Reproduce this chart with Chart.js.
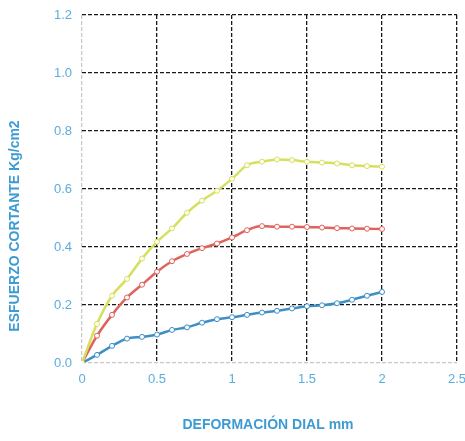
<!DOCTYPE html>
<html lang="es">
<head>
<meta charset="UTF-8">
<title>Esfuerzo cortante vs deformación</title>
<script src="https://cdn.jsdelivr.net/npm/chart.js"></script>
<style>
    body { margin: 0; background: #fff; }
    #chart { display: block; }
</style>
</head>
<body>
<canvas id="chart" width="465" height="441"></canvas>
<script>
// deformación dial (mm)
const deformacion = [0, 0.1, 0.2, 0.3, 0.4, 0.5, 0.6, 0.7, 0.8, 0.9, 1.0,
                     1.1, 1.2, 1.3, 1.4, 1.5, 1.6, 1.7, 1.8, 1.9, 2.0];
// esfuerzo cortante (Kg/cm2)
const serieAmarilla = [0, 0.135, 0.232, 0.29, 0.36, 0.418, 0.464, 0.518, 0.56, 0.594, 0.635,
                       0.682, 0.694, 0.702, 0.70, 0.694, 0.691, 0.688, 0.682, 0.679, 0.677];
const serieRoja = [0, 0.094, 0.166, 0.226, 0.27, 0.315, 0.351, 0.376, 0.396, 0.412, 0.433,
                   0.458, 0.472, 0.47, 0.47, 0.469, 0.467, 0.465, 0.464, 0.463, 0.462];
const serieAzul = [0, 0.028, 0.059, 0.084, 0.09, 0.098, 0.114, 0.123, 0.139, 0.151, 0.158,
                   0.166, 0.174, 0.18, 0.188, 0.196, 0.199, 0.206, 0.218, 0.232, 0.245];
const xTicks = ['0', '0.5', '1', '1.5', '2', '2.5'];
const yTicks = ['0.0', '0.2', '0.4', '0.6', '0.8', '1.0', '1.2'];

const azulTexto = '#3c9bd3';
const fuente = '"Liberation Sans", Arial, sans-serif';

function puntos(vals) {
    return deformacion.map((x, i) => ({ x: x, y: vals[i] }));
}

function serie(vals, color) {
    return {
        data: puntos(vals),
        borderColor: color,
        backgroundColor: '#ffffff',
        borderWidth: 2.5,
        pointRadius: 2.5,
        pointBorderWidth: 1,
        pointBorderColor: color,
        pointBackgroundColor: '#ffffff',
        cubicInterpolationMode: 'monotone'
    };
}

// titulos de ejes dibujados a mano (el del eje Y no está centrado)
const titulos = {
    id: 'titulos',
    afterDraw(chart) {
        const ctx = chart.ctx;
        ctx.save();
        ctx.fillStyle = azulTexto;
        ctx.font = 'bold 14px ' + fuente;
        ctx.textAlign = 'center';
        ctx.textBaseline = 'middle';
        ctx.fillText('DEFORMACIÓN DIAL mm', 268, 425);
        ctx.translate(15, 226);
        ctx.rotate(-Math.PI / 2);
        ctx.fillText('ESFUERZO CORTANTE Kg/cm2', 0, 0);
        ctx.restore();
    }
};

const colorRejilla = ctx => ctx.tick && ctx.tick.value === 0 ? '#c8c8c8' : '#1a1a1a';

new Chart(document.getElementById('chart').getContext('2d'), {
    type: 'line',
    data: {
        datasets: [
            serie(serieAmarilla, '#d6e05c'),
            serie(serieRoja, '#e0625c'),
            serie(serieAzul, '#3d8fc6')
        ]
    },
    options: {
        responsive: false,
        animation: false,
        layout: { padding: { top: 15, right: 8, left: 0, bottom: 0 } },
        plugins: { legend: { display: false }, tooltip: { enabled: false } },
        scales: {
            x: {
                type: 'linear',
                min: 0, max: 2.5,
                afterFit(scale) {
                    scale.height = 78;
                    scale.paddingLeft = 0;
                    scale.paddingRight = 0;
                },
                ticks: {
                    stepSize: 0.5,
                    padding: 9,
                    color: '#5aaedb',
                    font: { family: fuente, size: 13 },
                    callback: (v, i) => xTicks[i]
                },
                grid: { color: colorRejilla, lineWidth: 1.3, drawTicks: false },
                border: { display: false, dash: [4, 2] }
            },
            y: {
                min: 0, max: 1.2,
                afterFit(scale) {
                    scale.width = 82;
                    scale.paddingTop = 0;
                    scale.paddingBottom = 0;
                },
                ticks: {
                    stepSize: 0.2,
                    padding: 10,
                    color: '#5aaedb',
                    font: { family: fuente, size: 13 },
                    callback: (v, i) => yTicks[i]
                },
                grid: { color: colorRejilla, lineWidth: 1.3, drawTicks: false },
                border: { display: false, dash: [4, 2] }
            }
        }
    },
    plugins: [titulos]
});
</script>
</body>
</html>
